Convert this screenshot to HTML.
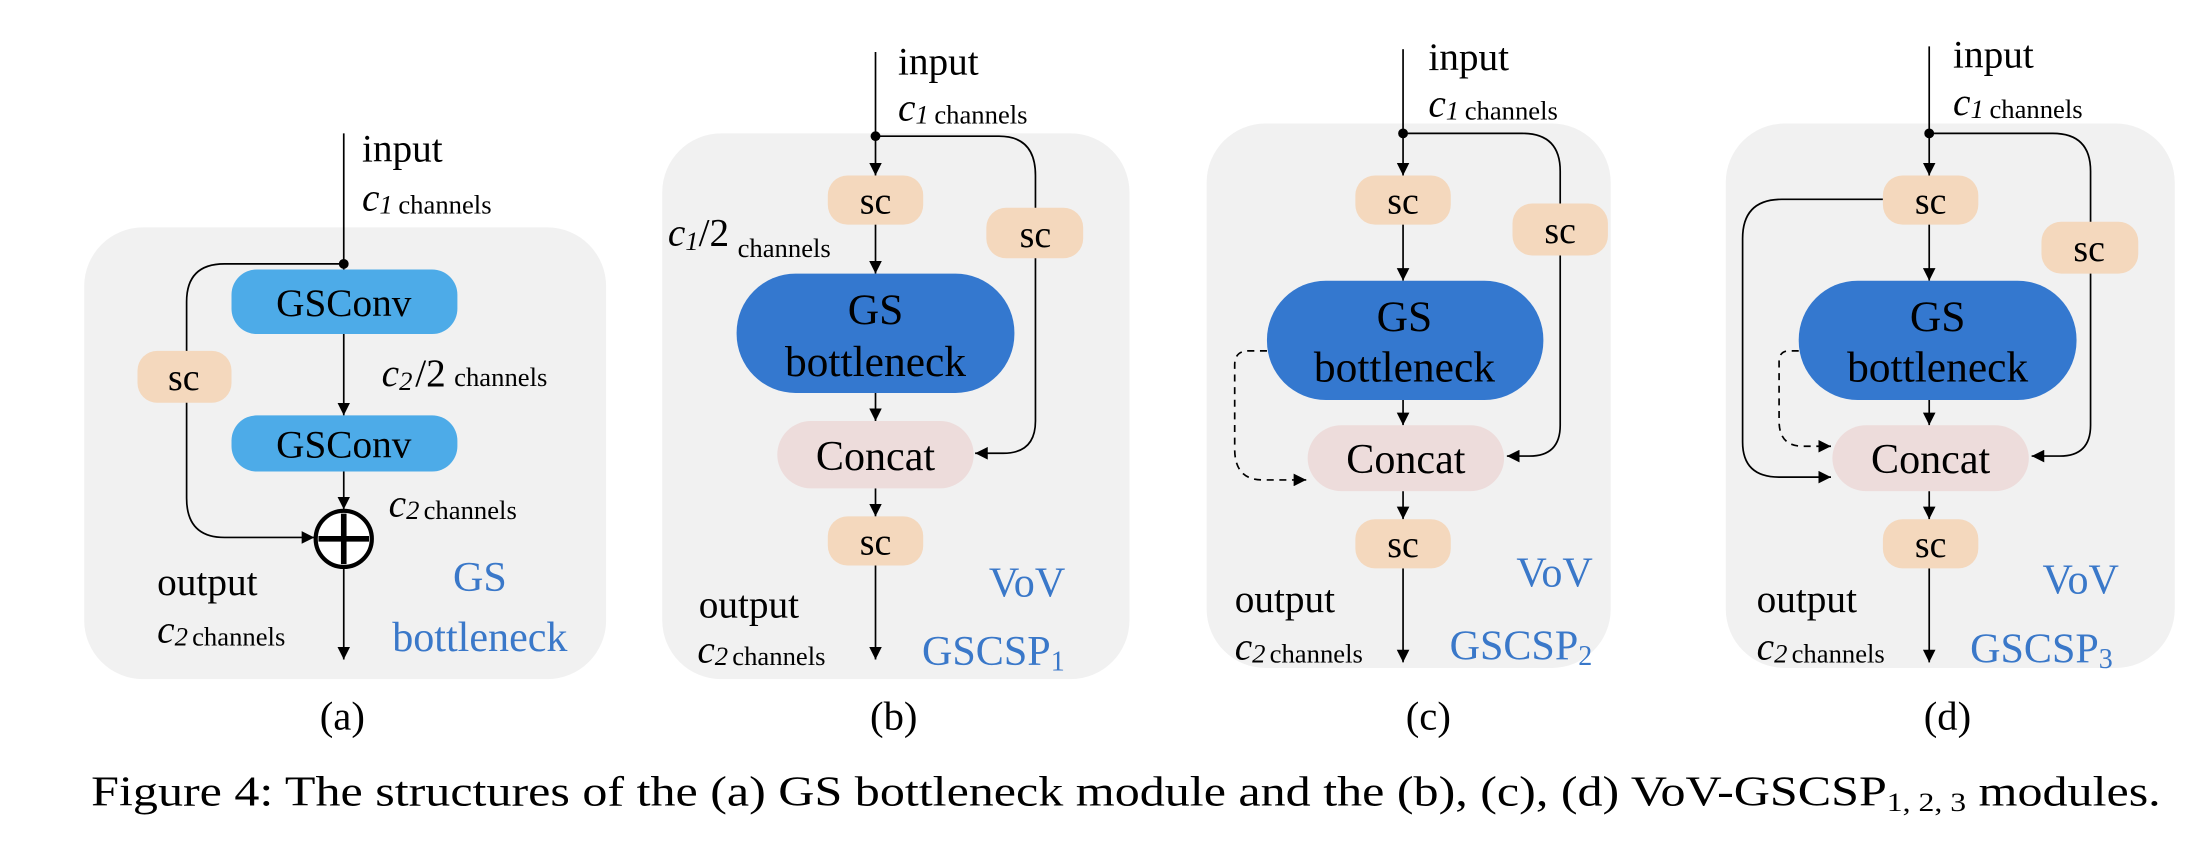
<!DOCTYPE html>
<html><head><meta charset="utf-8"><style>
html,body{margin:0;padding:0;background:#fff;}
svg{display:block;font-family:"Liberation Serif","DejaVu Serif",serif;}
svg text{font-family:"Liberation Serif","DejaVu Serif",serif;}
</style></head><body>
<svg width="2200" height="842" viewBox="0 0 1568 600" xmlns="http://www.w3.org/2000/svg" font-family="Liberation Serif, DejaVu Serif, serif">
<defs>
<marker id="ar" viewBox="0 0 10 10" refX="10" refY="5" markerWidth="9" markerHeight="9" markerUnits="userSpaceOnUse" orient="auto">
<path d="M0,0 L10,5 L0,10 z" fill="#000"/></marker>
</defs>
<!-- backgrounds -->
<rect x="60" y="162" width="372" height="322" rx="42" fill="#f1f1f1"/>
<rect x="472" y="95" width="333" height="389" rx="42" fill="#f1f1f1"/>
<rect x="860" y="88" width="288" height="388" rx="42" fill="#f1f1f1"/>
<rect x="1230" y="88" width="320" height="388" rx="42" fill="#f1f1f1"/>

<g fill="none" stroke="#000" stroke-width="1.2">
<line x1="245" y1="95" x2="245" y2="192"/>
<path d="M245,188 H160 Q133,188 133,215 V355 Q133,383 160,383 H224" marker-end="url(#ar)"/>
<line x1="245" y1="238" x2="245" y2="296" marker-end="url(#ar)"/>
<line x1="245" y1="336" x2="245" y2="363" marker-end="url(#ar)"/>
<line x1="245" y1="404" x2="245" y2="470" marker-end="url(#ar)"/>
<line x1="624" y1="37" x2="624" y2="125" marker-end="url(#ar)"/>
<line x1="624" y1="160" x2="624" y2="195" marker-end="url(#ar)"/>
<line x1="624" y1="280" x2="624" y2="300" marker-end="url(#ar)"/>
<line x1="624" y1="348" x2="624" y2="368" marker-end="url(#ar)"/>
<line x1="624" y1="403" x2="624" y2="470" marker-end="url(#ar)"/>
<path d="M624,97 H712 Q738,97 738,125 V300 Q738,323 715,323 H695" marker-end="url(#ar)"/>
<line x1="1000" y1="35" x2="1000" y2="125" marker-end="url(#ar)"/>
<line x1="1000" y1="160" x2="1000" y2="200" marker-end="url(#ar)"/>
<line x1="1000" y1="285" x2="1000" y2="303" marker-end="url(#ar)"/>
<line x1="1000" y1="350" x2="1000" y2="370" marker-end="url(#ar)"/>
<line x1="1000" y1="405" x2="1000" y2="472" marker-end="url(#ar)"/>
<path d="M1000,95 H1085 Q1112,95 1112,122 V303 Q1112,325 1090,325 H1074" marker-end="url(#ar)"/>
<path d="M903,250 H890 Q880,250 880,260 V320 Q880,342 900,342 H931" stroke-dasharray="5,4" marker-end="url(#ar)"/>
<line x1="1375" y1="33" x2="1375" y2="125" marker-end="url(#ar)"/>
<line x1="1375" y1="160" x2="1375" y2="200" marker-end="url(#ar)"/>
<line x1="1375" y1="285" x2="1375" y2="303" marker-end="url(#ar)"/>
<line x1="1375" y1="350" x2="1375" y2="370" marker-end="url(#ar)"/>
<line x1="1375" y1="405" x2="1375" y2="472" marker-end="url(#ar)"/>
<path d="M1375,95 H1463 Q1490,95 1490,122 V303 Q1490,325 1468,325 H1448" marker-end="url(#ar)"/>
<path d="M1342,142 H1270 Q1242,142 1242,170 V315 Q1242,340 1268,340 H1305" marker-end="url(#ar)"/>
<path d="M1282,250 H1275 Q1268,250 1268,258 V300 Q1268,318 1285,318 H1305" stroke-dasharray="5,4" marker-end="url(#ar)"/>
</g>
<g fill="#000">
<circle cx="245" cy="188" r="3.5"/><circle cx="624" cy="97" r="3.5"/><circle cx="1000" cy="95" r="3.5"/><circle cx="1375" cy="95" r="3.5"/>
</g>

<g>
<rect x="165" y="192" width="161" height="46" rx="18" fill="#4dabe8"/>
<rect x="165" y="296" width="161" height="40" rx="18" fill="#4dabe8"/>
<rect x="98" y="250" width="67" height="37" rx="14" fill="#f4d8bd"/>
<circle cx="245" cy="384" r="20" fill="#fff" stroke="#000" stroke-width="3"/>
<line x1="227" y1="384" x2="263" y2="384" stroke="#000" stroke-width="4"/>
<line x1="245" y1="366" x2="245" y2="402" stroke="#000" stroke-width="4"/>
<rect x="590" y="125" width="68" height="35" rx="14" fill="#f4d8bd"/>
<rect x="703" y="148" width="69" height="36" rx="14" fill="#f4d8bd"/>
<rect x="525" y="195" width="198" height="85" rx="42" fill="#3478cf"/>
<rect x="554" y="300" width="140" height="48" rx="24" fill="#eddcdb"/>
<rect x="590" y="368" width="68" height="35" rx="14" fill="#f4d8bd"/>
<rect x="966" y="125" width="68" height="35" rx="14" fill="#f4d8bd"/>
<rect x="1078" y="145" width="68" height="37" rx="14" fill="#f4d8bd"/>
<rect x="903" y="200" width="197" height="85" rx="42" fill="#3478cf"/>
<rect x="932" y="303" width="140" height="47" rx="24" fill="#eddcdb"/>
<rect x="966" y="370" width="68" height="35" rx="14" fill="#f4d8bd"/>
<rect x="1342" y="125" width="68" height="35" rx="14" fill="#f4d8bd"/>
<rect x="1455" y="158" width="69" height="37" rx="14" fill="#f4d8bd"/>
<rect x="1282" y="200" width="198" height="85" rx="42" fill="#3478cf"/>
<rect x="1306" y="303" width="140" height="47" rx="24" fill="#eddcdb"/>
<rect x="1342" y="370" width="68" height="35" rx="14" fill="#f4d8bd"/>
</g>

<g text-anchor="middle" fill="#000">
<text x="245" y="225" font-size="28">GSConv</text>
<text x="245" y="326" font-size="28">GSConv</text>
<text x="131" y="278" font-size="27">sc</text>
<text x="624" y="152" font-size="27">sc</text>
<text x="738" y="176" font-size="27">sc</text>
<text x="624" y="231" font-size="31">GS</text>
<text x="624" y="268" font-size="31">bottleneck</text>
<text x="624" y="335" font-size="30">Concat</text>
<text x="624" y="395" font-size="27">sc</text>
<text x="1000" y="152" font-size="27">sc</text>
<text x="1112" y="173" font-size="27">sc</text>
<text x="1001" y="236" font-size="31">GS</text>
<text x="1001" y="272" font-size="31">bottleneck</text>
<text x="1002" y="337" font-size="30">Concat</text>
<text x="1000" y="397" font-size="27">sc</text>
<text x="1376" y="152" font-size="27">sc</text>
<text x="1489" y="186" font-size="27">sc</text>
<text x="1381" y="236" font-size="31">GS</text>
<text x="1381" y="272" font-size="31">bottleneck</text>
<text x="1376" y="337" font-size="30">Concat</text>
<text x="1376" y="397" font-size="27">sc</text>
</g>

<g fill="#000">
<text x="258" y="115" font-size="28">input</text>
<text x="258" y="150" font-size="28" font-style="italic">c<tspan font-size="19" dy="2">1</tspan><tspan font-style="normal" font-size="19" dx="4">channels</tspan></text>
<text x="272" y="275" font-size="28"><tspan font-style="italic">c</tspan><tspan font-size="19" font-style="italic" dy="3">2</tspan><tspan dy="-3" dx="2">/2</tspan><tspan font-size="19" dx="6">channels</tspan></text>
<text x="277" y="368" font-size="28" font-style="italic">c<tspan font-size="19" dy="2">2</tspan><tspan font-style="normal" font-size="19" dx="3">channels</tspan></text>
<text x="112" y="424" font-size="28">output</text>
<text x="112" y="458" font-size="28" font-style="italic">c<tspan font-size="19" dy="2">2</tspan><tspan font-style="normal" font-size="19" dx="3">channels</tspan></text>
<text x="640" y="53" font-size="28">input</text>
<text x="640" y="86" font-size="28" font-style="italic">c<tspan font-size="19" dy="2">1</tspan><tspan font-style="normal" font-size="19" dx="4">channels</tspan></text>
<text x="476" y="175" font-size="28"><tspan font-style="italic">c</tspan><tspan font-size="19" font-style="italic" dy="3">1</tspan><tspan dy="-3">/2</tspan><tspan font-size="19" dx="6" dy="8">channels</tspan></text>
<text x="498" y="440" font-size="28">output</text>
<text x="497" y="472" font-size="28" font-style="italic">c<tspan font-size="19" dy="2">2</tspan><tspan font-style="normal" font-size="19" dx="3">channels</tspan></text>
<text x="1018" y="50" font-size="28">input</text>
<text x="1018" y="83" font-size="28" font-style="italic">c<tspan font-size="19" dy="2">1</tspan><tspan font-style="normal" font-size="19" dx="4">channels</tspan></text>
<text x="880" y="436" font-size="28">output</text>
<text x="880" y="470" font-size="28" font-style="italic">c<tspan font-size="19" dy="2">2</tspan><tspan font-style="normal" font-size="19" dx="3">channels</tspan></text>
<text x="1392" y="48" font-size="28">input</text>
<text x="1392" y="82" font-size="28" font-style="italic">c<tspan font-size="19" dy="2">1</tspan><tspan font-style="normal" font-size="19" dx="4">channels</tspan></text>
<text x="1252" y="436" font-size="28">output</text>
<text x="1252" y="470" font-size="28" font-style="italic">c<tspan font-size="19" dy="2">2</tspan><tspan font-style="normal" font-size="19" dx="3">channels</tspan></text>
</g>

<g fill="#3a78c9" text-anchor="middle" font-size="30">
<text x="342" y="421">GS</text>
<text x="342" y="464">bottleneck</text>
<text x="732" y="425">VoV</text>
<text x="708" y="474">GSCSP<tspan font-size="20" dy="4">1</tspan></text>
<text x="1108" y="418">VoV</text>
<text x="1084" y="470">GSCSP<tspan font-size="20" dy="4">2</tspan></text>
<text x="1483" y="423">VoV</text>
<text x="1455" y="472">GSCSP<tspan font-size="20" dy="4">3</tspan></text>
</g>

<g text-anchor="middle" font-size="29" fill="#000">
<text x="244" y="520">(a)</text>
<text x="637" y="520">(b)</text>
<text x="1018" y="520">(c)</text>
<text x="1388" y="520">(d)</text>
</g>
<text x="65" y="574" font-size="30" fill="#000" textLength="1475" lengthAdjust="spacingAndGlyphs">Figure 4: The structures of the (a) GS bottleneck module and the (b), (c), (d) VoV-GSCSP<tspan font-size="19" dy="4">1, 2, 3</tspan><tspan dy="-4"> modules.</tspan></text>
</svg>
</body></html>
